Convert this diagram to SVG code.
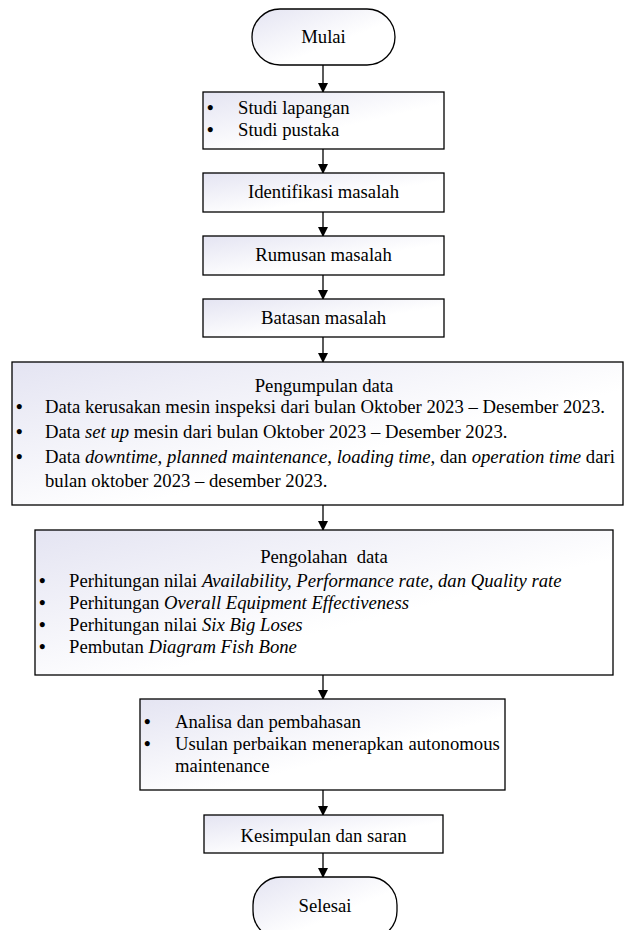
<svg xmlns="http://www.w3.org/2000/svg" width="624" height="930" viewBox="0 0 624 930">
<defs>
<linearGradient id="g" x1="0" y1="0" x2="1" y2="1">
<stop offset="0" stop-color="#e4e4f2"/>
<stop offset="0.6" stop-color="#ffffff"/>
<stop offset="1" stop-color="#ffffff"/>
</linearGradient>
<marker id="ah" markerWidth="10" markerHeight="10" refX="9" refY="5" orient="auto" markerUnits="userSpaceOnUse">
<path d="M0,0 L10,5 L0,10 Z" fill="#000"/>
</marker>
</defs>
<style>
.box{fill:url(#g);stroke:#000;stroke-width:1.3}
.t{font-family:"Liberation Serif","Times New Roman",serif;font-size:18.7px;fill:#000}
.b{font-weight:bold}
.c{text-anchor:middle}
.i{font-style:italic}
.con{stroke:#000;stroke-width:1.3;fill:none;marker-end:url(#ah)}
</style>
<g id="connectors">
<line class="con" x1="323" y1="65" x2="323" y2="92"/>
<line class="con" x1="323" y1="149" x2="323" y2="173"/>
<line class="con" x1="323" y1="212" x2="323" y2="236"/>
<line class="con" x1="323" y1="275" x2="323" y2="299"/>
<line class="con" x1="323" y1="337" x2="323" y2="362"/>
<line class="con" x1="323" y1="505" x2="323" y2="530"/>
<line class="con" x1="323" y1="675" x2="323" y2="699"/>
<line class="con" x1="323" y1="790" x2="323" y2="815"/>
<line class="con" x1="323" y1="853" x2="323" y2="877"/>
</g>
<g id="mulai">
<rect class="box" x="252" y="9" width="143" height="56" rx="28" ry="28"/>
<text class="t c" x="323.5" y="43">Mulai</text>
</g>
<g id="studi">
<rect class="box" x="203" y="92" width="241" height="57"/>
<text class="t" x="207" y="114"><tspan class="b">•</tspan><tspan x="238">Studi lapangan</tspan></text>
<text class="t" x="207" y="136"><tspan class="b">•</tspan><tspan x="238">Studi pustaka</tspan></text>
</g>
<g id="identifikasi">
<rect class="box" x="203" y="173" width="241" height="39"/>
<text class="t c" x="323.5" y="198">Identifikasi masalah</text>
</g>
<g id="rumusan">
<rect class="box" x="203" y="236" width="241" height="39"/>
<text class="t c" x="323.5" y="261">Rumusan masalah</text>
</g>
<g id="batasan">
<rect class="box" x="203" y="299" width="241" height="38"/>
<text class="t c" x="323.5" y="324">Batasan masalah</text>
</g>
<g id="pengumpulan">
<rect class="box" x="12" y="362" width="611" height="143"/>
<text class="t c" x="324" y="392">Pengumpulan data</text>
<text class="t" x="16" y="413"><tspan class="b">•</tspan><tspan x="45">Data kerusakan mesin inspeksi dari bulan Oktober 2023 – Desember 2023.</tspan></text>
<text class="t" x="16" y="438"><tspan class="b">•</tspan><tspan x="45">Data <tspan class="i">set up</tspan> mesin dari bulan Oktober 2023 – Desember 2023.</tspan></text>
<text class="t" x="16" y="463"><tspan class="b">•</tspan><tspan x="45">Data <tspan class="i">downtime, planned maintenance, loading time,</tspan> dan <tspan class="i">operation time</tspan> dari</tspan></text>
<text class="t" x="45" y="487">bulan oktober 2023 – desember 2023.</text>
</g>
<g id="pengolahan">
<rect class="box" x="35" y="530" width="578" height="145"/>
<text class="t c" x="324" y="563" style="white-space:pre">Pengolahan  data</text>
<text class="t" x="39" y="587"><tspan class="b">•</tspan><tspan x="69">Perhitungan nilai <tspan class="i">Availability, Performance rate, dan Quality rate</tspan></tspan></text>
<text class="t" x="39" y="609"><tspan class="b">•</tspan><tspan x="69">Perhitungan <tspan class="i">Overall Equipment Effectiveness</tspan></tspan></text>
<text class="t" x="39" y="631"><tspan class="b">•</tspan><tspan x="69">Perhitungan nilai <tspan class="i">Six Big Loses</tspan></tspan></text>
<text class="t" x="39" y="653"><tspan class="b">•</tspan><tspan x="69">Pembutan <tspan class="i">Diagram Fish Bone</tspan></tspan></text>
</g>
<g id="analisa">
<rect class="box" x="140" y="699" width="365" height="91"/>
<text class="t" x="144" y="728"><tspan class="b">•</tspan><tspan x="175">Analisa dan pembahasan</tspan></text>
<text class="t" x="144" y="750"><tspan class="b">•</tspan><tspan x="175" style="word-spacing:0.5px">Usulan perbaikan menerapkan autonomous</tspan></text>
<text class="t" x="175" y="772">maintenance</text>
</g>
<g id="kesimpulan">
<rect class="box" x="204" y="815" width="239" height="38"/>
<text class="t c" x="323.5" y="842">Kesimpulan dan saran</text>
</g>
<g id="selesai">
<rect class="box" x="253" y="877" width="144" height="62" rx="28" ry="28"/>
<text class="t c" x="325" y="912">Selesai</text>
</g>
</svg>
